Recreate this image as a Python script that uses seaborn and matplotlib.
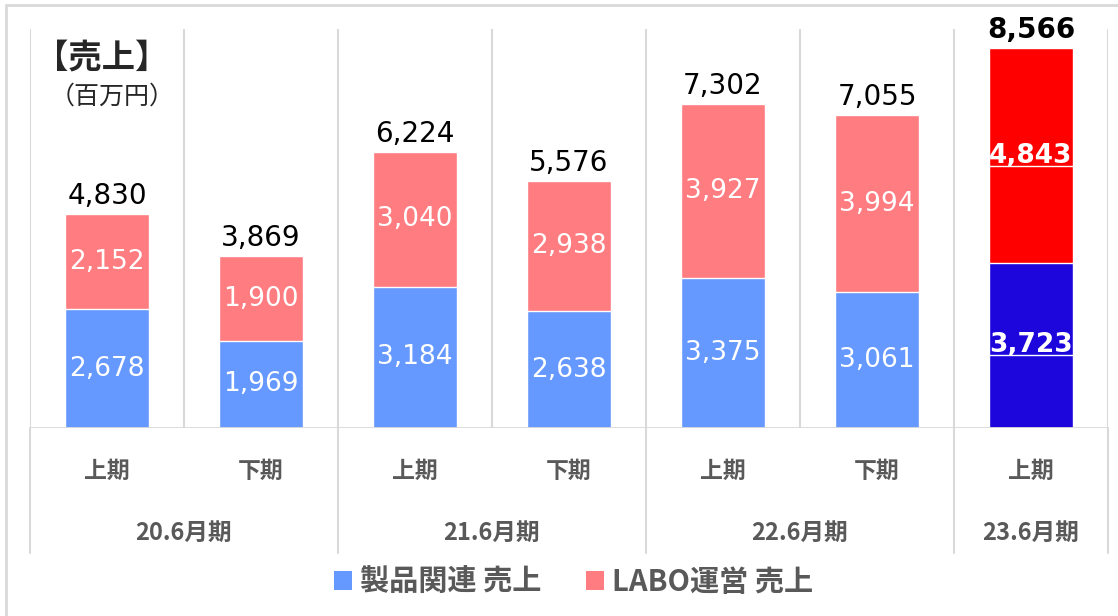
import numpy as np
import pandas as pd
import matplotlib
matplotlib.use('Agg')
import matplotlib.pyplot as plt
import seaborn as sns
from matplotlib.patches import Patch
from matplotlib.lines import Line2D
from matplotlib import transforms

# ---- data (百万円) ----
halves = ['上期', '下期', '上期', '下期', '上期', '下期', '上期']
fiscal_years = ['20.6月期', '21.6月期', '22.6月期', '23.6月期']
group_sizes = [2, 2, 2, 1]
product_sales = [2678, 1969, 3184, 2638, 3375, 3061, 3723]   # 製品関連 売上
labo_sales = [2152, 1900, 3040, 2938, 3927, 3994, 4843]      # LABO運営 売上
totals = [4830, 3869, 6224, 5576, 7302, 7055, 8566]
series_names = ['製品関連 売上', 'LABO運営 売上']

# colours: past periods light, forecast period saturated
BLUE, PINK = '#6699FF', '#FF7C80'
DARK_BLUE, RED = '#1C06DC', '#FF0000'
GRID = '#D9D9D9'
GREY_TXT = '#595959'
CJK = ['Noto Sans CJK JP', 'DejaVu Sans']

sns.set_theme(style='white')
plt.rcParams['font.family'] = ['DejaVu Sans', 'Noto Sans CJK JP']

# unique key per bar (fiscal year + index)
keys = []
for fy, sz in zip(fiscal_years, group_sizes):
    keys += [fy] * sz
keys = [f'{k}-{i}' for i, k in enumerate(keys)]
df = pd.DataFrame({'period': keys, 'product': product_sales,
                   'labo': labo_sales, 'total': totals})
n = len(df)
top_pal = {k: (RED if i == n - 1 else PINK) for i, k in enumerate(keys)}
bot_pal = {k: (DARK_BLUE if i == n - 1 else BLUE) for i, k in enumerate(keys)}

fig = plt.figure(figsize=(11.18, 6.16), dpi=100)
ax = fig.add_axes([30 / 1118, 188 / 616, 1078 / 1118, 399 / 616])

# stacked bars: full height in LABO colour, product part drawn over it
sns.barplot(data=df, x='period', y='total', hue='period', palette=top_pal,
            width=0.55, saturation=1, legend=False, ax=ax, order=keys)
sns.barplot(data=df, x='period', y='product', hue='period', palette=bot_pal,
            width=0.55, saturation=1, legend=False, ax=ax, order=keys)

ax.set_ylim(0, 9000)
ax.set_xlim(-0.5, n - 0.5)
ax.set_xticks([])
ax.set_yticks([])
ax.set_xlabel('')
ax.set_ylabel('')
for s in ax.spines.values():
    s.set_visible(False)

# light vertical separators between periods + baseline
ax.vlines(np.arange(-0.5, n), 0, 9000, color=GRID, lw=1.5, zorder=0)
ax.axhline(0, color=GRID, lw=2, zorder=3)

# value labels
underlined = []
for i in range(n):
    last = i == n - 1
    w = 'bold' if last else 'normal'
    t1 = ax.text(i, product_sales[i] / 2, f'{product_sales[i]:,}', ha='center',
                 va='center', color='white', fontsize=19, fontweight=w)
    t2 = ax.text(i, product_sales[i] + labo_sales[i] / 2, f'{labo_sales[i]:,}',
                 ha='center', va='center', color='white', fontsize=19, fontweight=w)
    ax.annotate(f'{totals[i]:,}', (i, totals[i]), xytext=(0, 13),
                textcoords='offset points', ha='center', va='center',
                fontsize=20, fontweight=w, color='black')
    if last:
        underlined += [t1, t2]

# two-level category axis
trans = transforms.blended_transform_factory(ax.transData, ax.transAxes)
for i, h in enumerate(halves):
    ax.text(i, -0.108, h, transform=trans, ha='center', va='center',
            fontsize=16.5, fontweight='bold', color=GREY_TXT, family=CJK)
starts = np.concatenate([[0], np.cumsum(group_sizes)])
for fy, s0, sz in zip(fiscal_years, starts[:-1], group_sizes):
    ax.text(s0 + (sz - 1) / 2, -0.263, fy, transform=trans, ha='center',
            va='center', fontsize=17, fontweight='bold', color=GREY_TXT, family=CJK)
for b in starts:
    ax.plot([b - 0.5, b - 0.5], [0, -0.313], transform=trans, color=GRID,
            lw=1.5, clip_on=False)

# title block
fig.text(102 / 1118, 1 - 58 / 616, '【売上】', ha='center', va='center',
         fontsize=24, fontweight='bold', family=CJK)
fig.text(112 / 1118, 1 - 97 / 616, '（百万円）', ha='center', va='center',
         fontsize=18, family=CJK)

# legend
handles = [Patch(facecolor=BLUE, edgecolor='none'), Patch(facecolor=PINK, edgecolor='none')]
leg = fig.legend(handles, series_names, loc='center', bbox_to_anchor=(0.513, 1 - 582 / 616),
                 ncol=2, frameon=False, handlelength=0.62, handleheight=0.62,
                 handletextpad=0.3, columnspacing=1.5,
                 prop={'family': CJK, 'size': 21, 'weight': 'bold'})
for t in leg.get_texts():
    t.set_color(GREY_TXT)

# outer frame (only top and left visible in the crop)
fig.add_artist(Line2D([6 / 1118, 6 / 1118], [0, 1 - 5 / 616], color=GRID, lw=2))
fig.add_artist(Line2D([6 / 1118, 1], [1 - 5 / 616, 1 - 5 / 616], color=GRID, lw=2))

# underline the forecast labels
fig.canvas.draw()
r = fig.canvas.get_renderer()
W, H = fig.bbox.width, fig.bbox.height
for t in underlined:
    bb = t.get_window_extent(r)
    y = (bb.y0 + 3) / H
    fig.add_artist(Line2D([bb.x0 / W, bb.x1 / W], [y, y], color='white', lw=1))

fig.savefig('out.png', dpi=100, facecolor='white')
